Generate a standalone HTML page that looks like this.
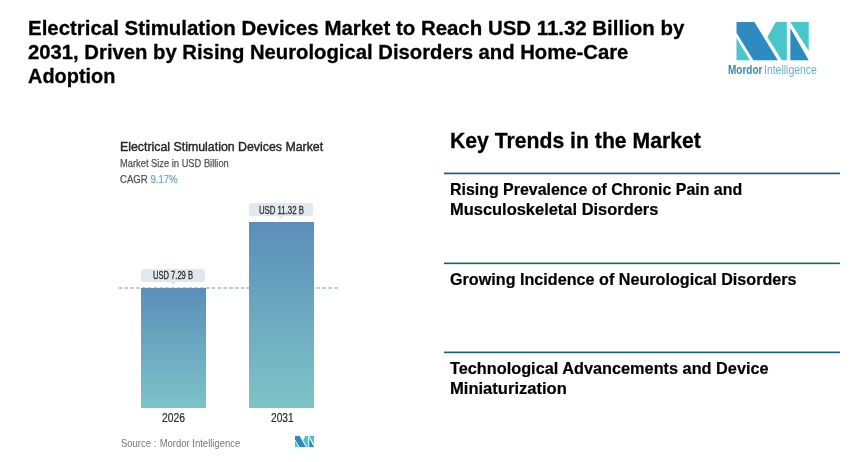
<!DOCTYPE html>
<html>
<head>
<meta charset="utf-8">
<style>
html,body{margin:0;padding:0;background:#fff;}
body{width:860px;height:462px;position:relative;overflow:hidden;font-family:"Liberation Sans",sans-serif;}
.a{position:absolute;white-space:nowrap;will-change:transform;}
.title{left:28px;top:15.5px;font-size:20.4px;line-height:24.2px;font-weight:bold;color:#000;-webkit-text-stroke:0.3px #000;}
.kt{left:450px;top:130.2px;font-size:21.2px;line-height:21.2px;font-weight:bold;color:#000;-webkit-text-stroke:0.3px #000;}
.rule{position:absolute;left:444px;width:396px;height:1.7px;background:#175e80;}
.item{left:449.9px;font-size:16.1px;line-height:20.3px;font-weight:bold;color:#000;-webkit-text-stroke:0.2px #000;}
.sx{display:inline-block;transform-origin:0 0;}
.ct{left:120px;top:140.7px;font-size:12.8px;line-height:12.8px;color:#262626;-webkit-text-stroke:0.4px #262626;}
.cs{left:120px;top:158.5px;font-size:11.3px;line-height:11.3px;color:#505050;-webkit-text-stroke:0.25px #505050;}
.bar{position:absolute;background:linear-gradient(#5b8eb9,#7ec3c8);}
.lbl{position:absolute;background:#e0e9ed;border-radius:3px;}
.lbl:after{content:"";position:absolute;left:50%;bottom:-3px;margin-left:-3px;border-left:3px solid transparent;border-right:3px solid transparent;border-top:3px solid #e0e9ed;}
.lt{position:absolute;white-space:nowrap;will-change:transform;font-size:10px;line-height:10px;color:#2e2e2e;-webkit-text-stroke:0.3px #2e2e2e;}
.yr{font-size:12px;line-height:12px;color:#2a2a2a;-webkit-text-stroke:0.2px #2a2a2a;}
</style>
</head>
<body>
<div class="a title"><span class="sx" style="transform:scaleX(1.002)">Electrical Stimulation Devices Market to Reach USD 11.32 Billion by</span><br><span class="sx" style="transform:scaleX(0.994)">2031, Driven by Rising Neurological Disorders and Home-Care</span><br><span class="sx" style="transform:scaleX(0.977)">Adoption</span></div>

<!-- logo -->
<svg class="a" style="left:0;top:0" width="860" height="462" viewBox="0 0 860 462">
  <polygon points="736.5,22 754.4,22 777.8,60.3 753.4,60.3 736.5,33" fill="#2e8bc0"/>
  <polygon points="736.5,37.9 736.5,60.3 749.9,60.3" fill="#47c6cb"/>
  <polygon points="775.8,22 786.8,22 786.8,60.3 781.8,60.3 767.4,36.9" fill="#47c6cb"/>
  <polygon points="790.3,22 808.7,22 808.7,50.9" fill="#47c6cb"/>
  <polygon points="790.3,28 790.3,60.3 808.7,60.3" fill="#2e8bc0"/>
</svg>
<div class="a" style="left:727.6px;top:63.8px;font-size:12.2px;line-height:12.2px;"><span class="sx" style="font-weight:bold;color:#348cc4;transform:scaleX(0.82)">Mordor</span></div>
<div class="a" style="left:764.2px;top:63.8px;font-size:12.2px;line-height:12.2px;"><span class="sx" style="color:#6dafd6;transform:scaleX(0.857)">Intelligence</span></div>

<!-- chart -->
<div class="a ct"><span class="sx" style="transform:scaleX(0.965)">Electrical Stimulation Devices Market</span></div>
<div class="a cs" style="top:157.6px;font-size:11.8px;line-height:11.8px"><span class="sx" style="transform:scaleX(0.79)">Market Size in USD Billion</span></div>
<div class="a cs" style="top:174px"><span class="sx" style="transform:scaleX(0.85)">CAGR <span style="color:#69a3c7;-webkit-text-stroke:0.2px #69a3c7">9.17%</span></span></div>

<svg class="a" style="left:0;top:0" width="860" height="462">
  <line x1="118.7" y1="288.1" x2="338.6" y2="288.1" stroke="#9fbacd" stroke-width="1.5" stroke-dasharray="3.5 2.323"/>
</svg>
<div class="bar" style="left:141px;top:288px;width:65.2px;height:119.8px;"></div>
<div class="bar" style="left:249.3px;top:222px;width:65.1px;height:185.8px;"></div>

<div class="lbl" style="left:140.8px;top:269.3px;width:64.3px;height:12.5px;"></div>
<div class="lbl" style="left:248.6px;top:203.1px;width:64.4px;height:13.4px;"></div>
<div class="lt" style="left:152.8px;top:271.3px;"><span class="sx" style="transform:scaleX(0.757)">USD 7.29 B</span></div>
<div class="lt" style="left:259px;top:205.5px;"><span class="sx" style="transform:scaleX(0.778)">USD 11.32 B</span></div>

<div class="a yr" style="left:162px;top:411.9px;"><span class="sx" style="transform:scaleX(0.86)">2026</span></div>
<div class="a yr" style="left:270.5px;top:411.9px;"><span class="sx" style="transform:scaleX(0.85)">2031</span></div>

<div class="a" style="left:121px;top:437.5px;font-size:11px;line-height:11px;color:#777;"><span class="sx" style="transform:scaleX(0.862)">Source : <span style="margin-left:0.8px">Mordor Intelligence</span></span></div>
<svg class="a" style="left:295px;top:436.2px" width="19" height="11" viewBox="736.5 22 72.2 38.3" preserveAspectRatio="none">
  <polygon points="736.5,22 754.4,22 777.8,60.3 753.4,60.3 736.5,33" fill="#2e8bc0"/>
  <polygon points="736.5,37.9 736.5,60.3 749.9,60.3" fill="#47c6cb"/>
  <polygon points="775.8,22 786.8,22 786.8,60.3 781.8,60.3 767.4,36.9" fill="#47c6cb"/>
  <polygon points="790.3,22 808.7,22 808.7,50.9" fill="#47c6cb"/>
  <polygon points="790.3,28 790.3,60.3 808.7,60.3" fill="#2e8bc0"/>
</svg>

<!-- key trends -->
<div class="a kt">Key Trends in the Market</div>
<svg class="a" style="left:0;top:0" width="860" height="462"><rect x="444" y="172.55" width="396" height="1.7" fill="#175e80"/><rect x="444" y="262.55" width="396" height="1.6" fill="#175e80"/><rect x="444" y="351.55" width="396" height="1.65" fill="#175e80"/></svg>
<div class="a item" style="top:179.1px"><span class="sx" style="transform:scaleX(0.99)">Rising Prevalence of Chronic Pain and</span><br><span class="sx" style="transform:scaleX(1.022)">Musculoskeletal Disorders</span></div>
<div class="a item" style="top:268.5px"><span class="sx" style="transform:scaleX(1.004)">Growing Incidence of Neurological Disorders</span></div>
<div class="a item" style="top:357.8px"><span class="sx" style="transform:scaleX(1.012)">Technological Advancements and Device</span><br><span class="sx" style="transform:scaleX(1.029)">Miniaturization</span></div>
</body>
</html>
